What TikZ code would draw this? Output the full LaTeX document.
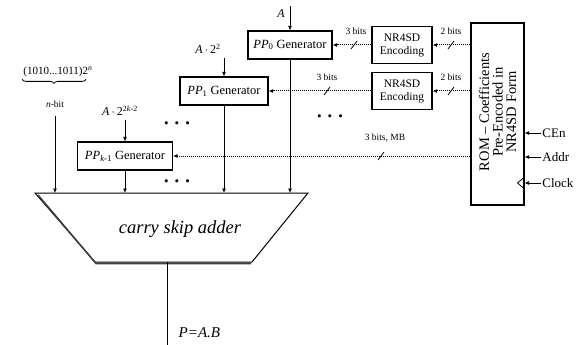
\documentclass[tikz,border=0pt]{standalone}
\usepackage{fontspec}
\setmainfont{Liberation Serif}
\usetikzlibrary{calc,arrows.meta,decorations.pathreplacing}

\tikzset{
  genbox/.style={draw, line width=1.1pt, minimum height=28pt, inner sep=1pt, font=\fontsize{12.5}{12.5}\selectfont},
  encbox/.style={draw, line width=1.1pt, minimum width=60pt, minimum height=37pt, align=center, inner sep=1pt, font=\fontsize{11.5}{13}\selectfont},
  bus/.style={densely dotted, line width=1pt, -{Latex[length=4.5pt,width=4pt]}},
  feed/.style={-{Latex[length=4.5pt,width=4pt]}},
  bitlbl/.style={font=\fontsize{9.5}{10}\selectfont, inner sep=1pt},
  pinlbl/.style={font=\fontsize{13}{13}\selectfont, anchor=west, inner sep=1pt},
  dotsl/.style={font=\fontsize{20}{20}\selectfont\boldmath, inner sep=0pt},
}
\newcommand{\busslash}[1]{\draw ($(#1)+(-3,4)$) -- ($(#1)+(3,-4)$);}

\begin{document}
\begin{tikzpicture}[x=1pt, y=-1pt, line width=0.8pt]
  \useasboundingbox (0,0) rectangle (579,345);

  % generators
  \node[genbox, minimum width=84pt] (pp0) at (290,45) {\textit{PP}\textsubscript{0} Generator};
  \node[genbox, minimum width=88pt] (pp1) at (224,91) {\textit{PP}\textsubscript{1} Generator};
  \node[genbox, minimum width=95pt] (ppk) at (125,156) {\textit{PP}\textsubscript{\itshape k\upshape-1} Generator};

  % encoders and ROM
  \node[encbox] (enc0) at (402,45) {NR4SD\\Encoding};
  \node[encbox] (enc1) at (402,91) {NR4SD\\Encoding};
  \node[draw, line width=1.1pt, minimum width=53pt, minimum height=182pt] (rom) at (497.5,114) {};
  \node[rotate=90, align=center, font=\fontsize{14.5}{13.5}\selectfont] (romtxt) at (497.5,112) {ROM -- Coefficients\\Pre-Encoded in\\NR4SD Form};

  % buses
  \draw[bus] (rom.west |- enc0.east) -- (enc0.east);
  \draw[bus] (enc0.west) -- (pp0.east);
  \draw[bus] (rom.west |- enc1.east) -- (enc1.east);
  \draw[bus] (enc1.west) -- (pp1.east);
  \draw[bus] (rom.west |- ppk.east) -- (ppk.east);

  % bus widths
  \coordinate (s0a) at (451,45);
  \coordinate (s0b) at (354,45);
  \coordinate (s1a) at (451,91);
  \coordinate (s1b) at (327,91);
  \coordinate (s2) at (381,156);
  \busslash{s0a} \busslash{s0b} \busslash{s1a} \busslash{s1b} \busslash{s2}
  \node[bitlbl] (b0a) at (451,31) {2 bits};
  \node[bitlbl] (b0b) at (356,31) {3 bits};
  \node[bitlbl] (b1a) at (451,77) {2 bits};
  \node[bitlbl] (b1b) at (327,77) {3 bits};
  \node[bitlbl] (b2) at (385,138) {3 bits, MB};

  % ROM inputs
  \node[pinlbl] (cen) at (541,133) {CEn};
  \node[pinlbl] (addr) at (541,157) {Addr};
  \node[pinlbl] (clk) at (541,183) {Clock};
  \draw[feed] (cen.west) -- (cen.west -| rom.east);
  \draw[feed] (addr.west) -- (addr.west -| rom.east);
  \draw[feed] (clk.west) -- (clk.west -| rom.east);
  \draw ($(clk.west -| rom.east)+(0,-6)$) -- ($(clk.west -| rom.east)+(-7,0)$) -- ($(clk.west -| rom.east)+(0,6)$);

  % operand inputs
  \node[font=\fontsize{12}{12}\selectfont\itshape] (a0) at (281,14) {A};
  \coordinate (a0in) at (290,6);
  \draw[feed] (a0in) -- (pp0.north);
  \node[font=\fontsize{12}{12}\selectfont] (a1) at (208,49) {\textit{A}\,$\cdot$\,2\textsuperscript{2}};
  \draw[feed] (a1.south -| pp1.north) -- (pp1.north);
  \node[font=\fontsize{12}{12}\selectfont] (ak) at (120,111) {\textit{A}\,$\cdot$\,2\textsuperscript{2\textit{k}-2}};
  \draw[feed] (ak.south -| ppk.north) -- (ppk.north);
  \node[font=\fontsize{11}{11}\selectfont, inner sep=1pt] (cst) at (58,72) {(1010...1011)2\textsuperscript{\itshape n}};
  \draw[decorate, decoration={brace, mirror, amplitude=4pt}] ($(cst.south west)+(0,1)$) -- ($(cst.south east)+(-8,1)$);
  \node[bitlbl] (nbit) at (55,104) {\textit{n}-bit};

  % dots
  \node[dotsl] (dots0) at (177,124) {$\cdots$};
  \node[dotsl] (dots1) at (177,182) {$\cdots$};
  \node[dotsl] (dots2) at (330,117) {$\cdots$};

  % adder
  \coordinate (tl) at (35,193);
  \coordinate (tr) at (308,193);
  \coordinate (br) at (252,262);
  \coordinate (bl) at (95,262);
  \draw[line width=1pt] (tl) -- (tr) -- (br) -- (bl) -- cycle;
  \draw[line width=1.6pt, black!75] ($(tl)+(3,2)$) -- ($(bl)+(1,1.5)$) -- ($(br)+(-1,1.5)$);
  \node[font=\fontsize{18.5}{18.5}\selectfont\itshape] (adder) at (180,229) {carry skip adder};

  \draw[feed, shorten <=7pt] (nbit.south) -- (nbit.south |- tl);
  \draw[feed] (ppk.south) -- (ppk.south |- tl);
  \draw[feed] (pp1.south) -- (pp1.south |- tl);
  \draw[feed] (pp0.south) -- (pp0.south |- tl);

  % output
  \coordinate (pout) at (167,345);
  \draw (pout |- bl) -- (pout);
  \node[font=\fontsize{15}{15}\selectfont\itshape, anchor=west] (prod) at (175,333) {P=A.B};
\end{tikzpicture}
\end{document}
